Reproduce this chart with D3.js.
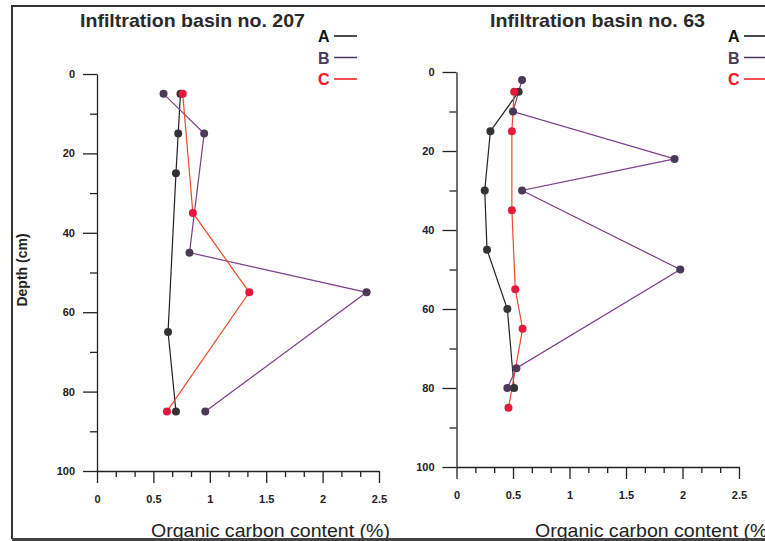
<!DOCTYPE html>
<html>
<head>
<meta charset="utf-8">
<script src="https://cdn.jsdelivr.net/npm/d3@7"></script>
<style>
  body { margin: 0; background: #fff; }
  svg { display: block; font-family: "Liberation Sans", Arial, sans-serif; }
</style>
</head>
<body>
<svg id="chart" width="765" height="541"></svg>
<script>
// Organic carbon depth profiles, two infiltration basins

var seriesNames = ["A", "B", "C"];
var xTicks = [0, 0.5, 1, 1.5, 2, 2.5];
var yTicks = [0, 20, 40, 60, 80, 100];

// basin 207
var b207_A_depth = [5, 15, 25, 65, 85];
var b207_A_oc    = [0.74, 0.72, 0.70, 0.63, 0.70];
var b207_B_depth = [5, 15, 45, 55, 85];
var b207_B_oc    = [0.59, 0.95, 0.82, 2.39, 0.96];
var b207_C_depth = [5, 35, 55, 85];
var b207_C_oc    = [0.76, 0.85, 1.35, 0.62];

// basin 63
var b63_A_depth = [5, 15, 30, 45, 60, 80];
var b63_A_oc    = [0.55, 0.30, 0.25, 0.27, 0.45, 0.51];
var b63_B_depth = [2, 10, 22, 30, 50, 75, 80];
var b63_B_oc    = [0.58, 0.50, 1.93, 0.58, 1.98, 0.53, 0.45];
var b63_C_depth = [5, 15, 35, 55, 65, 85];
var b63_C_oc    = [0.51, 0.49, 0.49, 0.52, 0.585, 0.46];

var lineColor = { A: "#222", B: "#7b3f8c", C: "#ec4a2a" };
var dotColor  = { A: "#333", B: "#4b3a57", C: "#e8183c" };
var textColor = { A: "#111", B: "#4b3a57", C: "#f0141e" };

var svg = d3.select("#chart");

function zip(depths, vals) {
  return depths.map(function(d, i) { return { depth: d, oc: vals[i] }; });
}

function drawPanel(p) {
  var x = d3.scaleLinear().domain([0, 2.5]).range([p.x0, p.x1]);
  var y = d3.scaleLinear().domain([0, 100]).range([p.y0, p.y1]);
  var g = svg.append("g");

  /* minor ticks first, then the labelled axes on top */
  var minorX = d3.range(1, 15).filter(function(i) { return i % 3 !== 0; }).map(function(i) { return i / 6; });
  g.append("g")
    .attr("transform", "translate(0," + p.y1 + ")")
    .call(d3.axisBottom(x).tickValues(minorX).tickSize(6).tickFormat(""))
    .call(function(a) { a.select(".domain").remove(); });
  g.append("g")
    .attr("transform", "translate(" + p.x0 + ",0)")
    .call(d3.axisLeft(y).tickValues([10, 30, 50, 70, 90]).tickSize(7).tickFormat(""))
    .call(function(a) { a.select(".domain").remove(); });

  var xa = g.append("g")
    .attr("transform", "translate(0," + p.y1 + ")")
    .call(d3.axisBottom(x).tickValues(xTicks).tickSize(12).tickSizeOuter(0).tickPadding(12)
      .tickFormat(function(d) { return String(d); }));
  var ya = g.append("g")
    .attr("transform", "translate(" + p.x0 + ",0)")
    .call(d3.axisLeft(y).tickValues(yTicks).tickSize(14).tickSizeOuter(0).tickPadding(8));

  g.selectAll(".tick line, .domain").attr("stroke", "#222").attr("stroke-width", 1.3);
  xa.selectAll("text").attr("font-size", 11).attr("font-weight", "bold").attr("fill", "#222");
  ya.selectAll("text").attr("font-size", 11).attr("font-weight", "bold").attr("fill", "#222");

  var line = d3.line().x(function(d) { return x(d.oc); }).y(function(d) { return y(d.depth); });

  seriesNames.forEach(function(s) {
    g.append("path")
      .datum(p.data[s])
      .attr("d", line)
      .attr("fill", "none")
      .attr("stroke", lineColor[s])
      .attr("stroke-width", 1.2);
  });
  seriesNames.forEach(function(s) {
    g.selectAll(null)
      .data(p.data[s])
      .enter().append("circle")
        .attr("cx", function(d) { return x(d.oc); })
        .attr("cy", function(d) { return y(d.depth); })
        .attr("r", 4)
        .attr("fill", dotColor[s]);
  });

  // title
  g.append("text")
    .attr("x", p.titleX).attr("y", 27)
    .attr("font-size", 19).attr("font-weight", "bold").attr("fill", "#2a2a2a")
    .attr("textLength", p.titleW).attr("lengthAdjust", "spacingAndGlyphs")
    .text(p.title);

  // legend
  seriesNames.forEach(function(s, i) {
    var by = 42 + i * 21.5;
    g.append("text")
      .attr("x", p.legX).attr("y", by)
      .attr("font-size", 16).attr("font-weight", "bold").attr("fill", textColor[s])
      .text(s);
    g.append("line")
      .attr("x1", p.legX + 16).attr("x2", p.legX + 39)
      .attr("y1", by - 6).attr("y2", by - 6)
      .attr("stroke", textColor[s]).attr("stroke-width", 1.5);
  });

  // x axis label
  g.append("text")
    .attr("x", p.xLabX).attr("y", 537)
    .attr("font-size", 19).attr("fill", "#222")
    .attr("textLength", 239).attr("lengthAdjust", "spacingAndGlyphs")
    .text("Organic carbon content (%)");
}

drawPanel({
  x0: 97, x1: 379, y0: 74, y1: 471,
  title: "Infiltration basin no. 207", titleX: 80, titleW: 225,
  legX: 318, xLabX: 151,
  data: { A: zip(b207_A_depth, b207_A_oc), B: zip(b207_B_depth, b207_B_oc), C: zip(b207_C_depth, b207_C_oc) }
});

drawPanel({
  x0: 456.5, x1: 739, y0: 72, y1: 467,
  title: "Infiltration basin no. 63", titleX: 490, titleW: 215,
  legX: 728, xLabX: 535,
  data: { A: zip(b63_A_depth, b63_A_oc), B: zip(b63_B_depth, b63_B_oc), C: zip(b63_C_depth, b63_C_oc) }
});

// y label, only on the left panel
svg.append("text")
  .attr("transform", "translate(27,270) rotate(-90)")
  .attr("text-anchor", "middle")
  .attr("font-size", 14).attr("font-weight", "bold").attr("fill", "#222")
  .text("Depth (cm)");

// frame round the figure
svg.append("path")
  .attr("d", "M12,539V6H765")
  .attr("fill", "none").attr("stroke", "#333").attr("stroke-width", 2);
svg.append("line")
  .attr("x1", 12).attr("x2", 765).attr("y1", 539.5).attr("y2", 539.5)
  .attr("stroke", "#444").attr("stroke-width", 3);
</script>
</body>
</html>
